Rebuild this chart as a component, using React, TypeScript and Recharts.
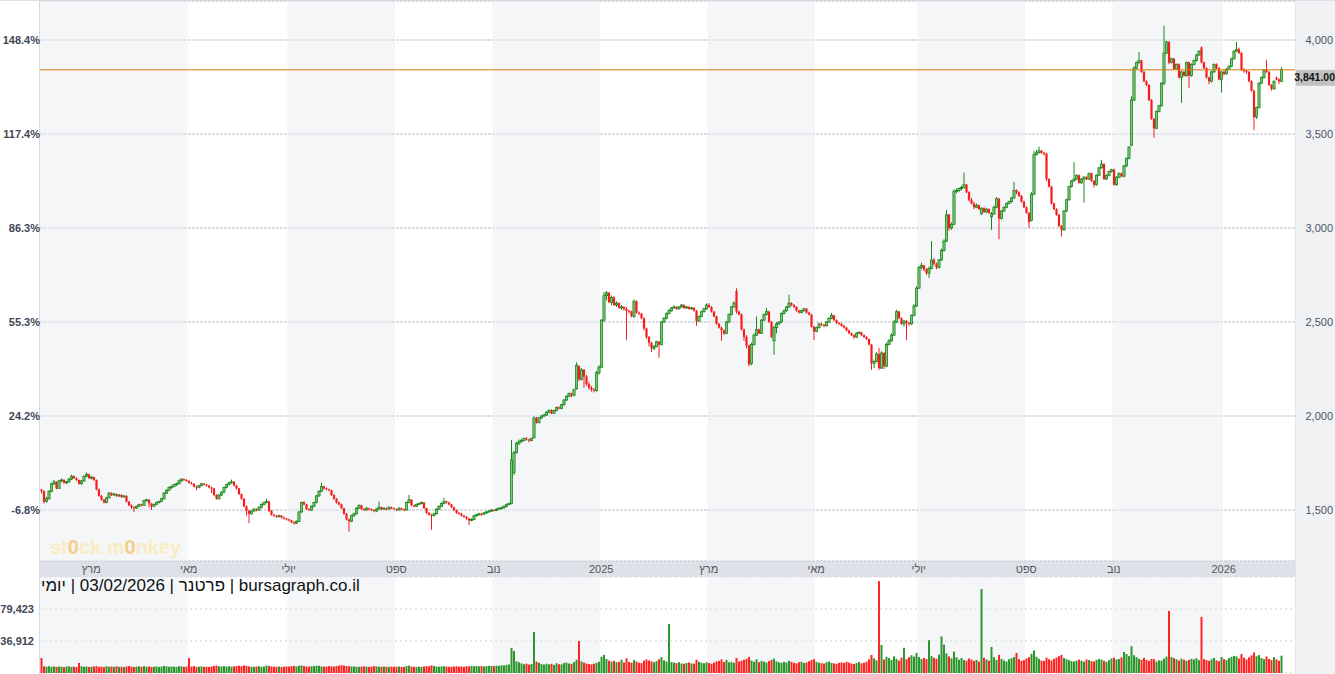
import React from "react";
import {
  Bar,
  CartesianGrid,
  ComposedChart,
  ReferenceArea,
  ReferenceLine,
  XAxis,
  YAxis,
} from "recharts";

// trading days per month, Feb 2024 .. Feb 2026
const MONTH_DAYS = [20, 21, 18, 21, 19, 23, 20, 20, 19, 21, 22, 22, 21, 22, 21, 21, 20, 23, 20, 19, 16, 21, 23, 22, 2];
const MONTH_LABELS = ["פבר", "מרץ", "אפר", "מאי", "יוני", "יולי", "אוג", "ספט", "אוק", "נוב", "דצמ", "2025", "פבר", "מרץ", "אפר", "מאי", "יוני", "יולי", "אוג", "ספט", "אוק", "נוב", "דצמ", "2026", "פבר"];

const PRICE_TICKS = [1500, 2000, 2500, 3000, 3500, 4000];
const PCT_LABELS = ["-6.8%", "24.2%", "55.3%", "86.3%", "117.4%", "148.4%"];
const PRICE_DOMAIN = [1229, 4207];
const LAST_PRICE = 3841;
const VOL_TICKS = [36912, 79423];
const VOL_DOMAIN = [-5600, 122000];

// [open, high, low, close]
const C2024 = [
  [1608,1612,1588,1600],[1600,1605,1535,1545],[1545,1570,1540,1560],[1560,1605,1555,1600],[1600,1645,1595,1640],[1640,1660,1632,1650],[1650,1652,1610,1615],[1615,1660,1612,1655],[1655,1668,1648,1660],[1660,1664,1640,1645],
  [1645,1655,1638,1650],[1650,1670,1646,1665],[1665,1688,1660,1680],[1680,1684,1665,1670],[1670,1674,1655,1660],[1660,1662,1635,1640],[1640,1660,1636,1655],[1655,1684,1650,1680],[1680,1700,1675,1690],[1690,1694,1664,1670],
  [1670,1682,1662,1675],[1675,1678,1655,1660],[1660,1662,1605,1610],[1610,1614,1570,1575],[1575,1580,1550,1555],[1555,1560,1535,1540],[1540,1570,1536,1565],[1565,1596,1560,1590],[1590,1594,1575,1580],[1580,1592,1576,1585],
  [1585,1588,1570,1575],[1575,1586,1570,1580],[1580,1584,1565,1570],[1570,1580,1566,1575],[1575,1578,1540,1545],[1545,1548,1520,1525],[1525,1530,1505,1515],[1515,1520,1490,1510],[1510,1524,1506,1520],[1520,1534,1515,1530],
  [1530,1533,1520,1525],
  [1525,1555,1522,1550],[1550,1560,1545,1555],[1555,1557,1515,1535],[1535,1538,1500,1520],[1520,1534,1516,1530],[1530,1544,1526,1540],[1540,1550,1535,1545],[1545,1565,1542,1560],[1560,1595,1556,1590],[1590,1610,1585,1605],
  [1605,1625,1600,1620],[1620,1630,1612,1625],[1625,1640,1620,1635],[1635,1645,1628,1640],[1640,1662,1636,1655],[1655,1668,1650,1665],[1665,1668,1655,1660],[1660,1664,1650,1655],
  [1655,1658,1640,1645],[1645,1650,1636,1640],[1640,1642,1620,1625],[1625,1630,1605,1620],[1620,1634,1615,1630],[1630,1645,1626,1640],[1640,1643,1630,1635],[1635,1638,1625,1630],[1630,1634,1615,1620],[1620,1624,1590,1615],
  [1615,1618,1575,1580],[1580,1584,1555,1560],[1560,1585,1556,1580],[1580,1600,1575,1595],[1595,1625,1590,1620],[1620,1640,1615,1635],[1635,1650,1630,1645],[1645,1662,1640,1650],[1650,1654,1625,1630],[1630,1634,1610,1615],
  [1615,1618,1580,1585],
  [1585,1588,1555,1560],[1560,1564,1515,1520],[1520,1524,1470,1495],[1495,1500,1430,1480],[1480,1500,1475,1495],[1495,1510,1490,1505],[1505,1508,1494,1500],[1500,1520,1496,1515],[1515,1535,1510,1530],[1530,1545,1525,1540],
  [1540,1560,1536,1545],[1545,1550,1490,1495],[1495,1500,1470,1475],[1475,1480,1462,1470],[1470,1474,1458,1465],[1465,1476,1460,1470],[1470,1472,1455,1460],[1460,1466,1450,1455],[1455,1458,1444,1450],
  [1450,1454,1440,1445],[1445,1448,1430,1435],[1435,1440,1422,1430],[1430,1445,1426,1440],[1440,1495,1436,1490],[1490,1545,1486,1540],[1540,1548,1525,1530],[1530,1534,1500,1505],[1505,1510,1495,1500],[1500,1525,1496,1520],
  [1520,1545,1515,1540],[1540,1580,1536,1575],[1575,1605,1570,1600],[1600,1645,1596,1625],[1625,1630,1608,1615],[1615,1620,1605,1610],[1610,1614,1600,1605],[1605,1608,1575,1580],[1580,1584,1555,1560],[1560,1564,1535,1540],
  [1540,1545,1525,1530],[1530,1534,1505,1510],[1510,1512,1475,1480],
  [1480,1484,1445,1450],[1450,1455,1385,1440],[1440,1475,1436,1470],[1470,1486,1465,1480],[1480,1515,1476,1510],[1510,1530,1505,1525],[1525,1528,1500,1505],[1505,1510,1494,1500],[1500,1515,1496,1510],[1510,1512,1498,1505],
  [1505,1508,1494,1500],[1500,1503,1488,1495],[1495,1510,1490,1505],[1505,1545,1500,1515],[1515,1518,1500,1505],[1505,1514,1500,1510],[1510,1513,1498,1505],[1505,1520,1500,1515],[1515,1518,1505,1510],[1510,1514,1500,1505],
  [1505,1508,1495,1500],[1500,1515,1496,1510],[1510,1512,1500,1505],[1505,1508,1494,1500],[1500,1545,1498,1540],[1540,1580,1536,1555],[1555,1558,1520,1525],[1525,1528,1515,1520],[1520,1534,1516,1530],[1530,1540,1526,1535],
  [1535,1545,1530,1540],[1540,1542,1505,1510],[1510,1512,1480,1485],[1485,1490,1470,1475],[1475,1480,1395,1470],[1470,1485,1466,1480],[1480,1510,1476,1505],[1505,1525,1500,1520],[1520,1540,1516,1535],[1535,1565,1530,1545],
  [1545,1550,1535,1540],[1540,1544,1525,1530],[1530,1533,1510,1515],[1515,1518,1495,1500],[1500,1503,1480,1485],[1485,1490,1475,1480],[1480,1484,1465,1470],[1470,1474,1458,1465],[1465,1468,1448,1455],[1455,1458,1420,1445],
  [1445,1456,1440,1450],[1450,1475,1446,1470],[1470,1480,1465,1475],[1475,1486,1470,1480],[1480,1484,1470,1478],[1478,1490,1474,1485],[1485,1495,1480,1490],[1490,1500,1485,1495],[1495,1506,1490,1500],
  [1500,1504,1492,1498],[1498,1510,1494,1505],[1505,1515,1500,1510],[1510,1518,1505,1512],[1512,1525,1508,1520],[1520,1534,1515,1530],[1530,1540,1525,1535],[1535,1872,1530,1766],[1700,1815,1686,1805],[1805,1862,1800,1855],
  [1855,1875,1845,1865],[1865,1878,1858,1870],[1870,1885,1865,1880],[1880,1888,1870,1875],[1875,1880,1860,1870],[1870,1885,1866,1880],[1885,1998,1880,1990],[1990,1995,1960,1965],[1965,1995,1960,1990],[1990,2005,1985,2000],
  [2000,2012,1995,2005],
  [2005,2025,2000,2020],[2020,2035,2015,2030],[2030,2036,2010,2015],[2015,2034,2010,2030],[2030,2050,2025,2045],[2045,2052,2035,2040],[2040,2065,2036,2060],[2060,2090,2055,2085],[2085,2110,2080,2105],[2105,2125,2100,2120],
  [2120,2124,2100,2110],[2110,2145,2105,2140],[2145,2285,2140,2270],[2265,2270,2185,2195],[2195,2255,2190,2245],[2245,2250,2150,2210],[2210,2218,2160,2170],[2170,2180,2140,2150],[2150,2160,2130,2140],[2140,2148,2125,2135],
  [2135,2240,2130,2230],[2230,2270,2220,2260],
];

const C2025 = [
  [2260,2515,2255,2510],[2510,2660,2500,2640],[2640,2665,2615,2655],[2655,2660,2600,2605],[2605,2640,2590,2630],[2630,2638,2585,2590],[2590,2610,2580,2600],[2600,2604,2570,2575],[2575,2590,2565,2580],[2580,2584,2560,2570],
  [2570,2580,2405,2560],[2560,2565,2545,2555],[2555,2560,2525,2530],[2530,2620,2520,2610],[2610,2615,2545,2550],[2550,2556,2535,2545],[2545,2548,2515,2520],[2520,2524,2455,2465],[2465,2470,2410,2420],[2420,2425,2370,2390],
  [2390,2395,2340,2360],[2360,2378,2350,2370],
  [2370,2400,2365,2395],[2395,2398,2310,2380],[2380,2505,2375,2500],[2500,2525,2495,2520],[2520,2550,2515,2545],[2545,2570,2540,2560],[2560,2580,2555,2575],[2575,2590,2570,2580],[2580,2584,2565,2570],[2570,2585,2566,2580],
  [2580,2596,2576,2590],[2590,2594,2570,2575],[2575,2585,2570,2580],[2580,2584,2565,2570],[2570,2580,2566,2575],[2575,2578,2555,2560],[2560,2564,2480,2505],[2505,2535,2500,2530],[2530,2560,2525,2555],[2555,2575,2550,2570],
  [2570,2600,2565,2590],
  [2590,2600,2575,2580],[2580,2584,2550,2555],[2555,2558,2525,2530],[2530,2534,2485,2490],[2490,2495,2465,2470],[2470,2475,2400,2455],[2455,2460,2430,2440],[2440,2505,2435,2500],[2500,2545,2495,2540],[2540,2585,2535,2580],
  [2580,2610,2575,2600],[2665,2680,2545,2555],[2555,2560,2535,2540],[2540,2545,2455,2460],[2460,2465,2400,2420],[2420,2430,2360,2375],[2375,2380,2265,2275],[2280,2390,2270,2380],[2380,2440,2375,2430],[2430,2530,2425,2460],
  [2460,2465,2435,2440],[2440,2515,2436,2510],
  [2510,2545,2505,2540],[2540,2575,2535,2555],[2555,2560,2495,2500],[2500,2505,2415,2420],[2400,2480,2325,2470],[2470,2500,2440,2490],[2490,2505,2485,2500],[2500,2550,2495,2545],[2545,2565,2540,2560],[2560,2585,2555,2580],
  [2580,2645,2575,2600],[2600,2605,2585,2590],[2590,2595,2575,2580],[2580,2584,2555,2560],[2560,2565,2545,2550],[2550,2565,2546,2560],[2560,2575,2555,2570],[2570,2574,2545,2550],[2550,2555,2535,2540],[2540,2544,2470,2475],
  [2475,2480,2404,2450],
  [2450,2475,2445,2470],[2470,2495,2465,2490],[2490,2494,2478,2485],[2485,2490,2472,2480],[2480,2505,2476,2500],[2500,2525,2495,2520],[2520,2548,2515,2535],[2535,2538,2505,2510],[2510,2514,2490,2495],[2495,2500,2485,2490],
  [2490,2494,2475,2480],[2480,2485,2465,2470],[2470,2474,2450,2455],[2455,2460,2435,2440],[2440,2444,2425,2430],[2430,2434,2410,2420],[2420,2445,2415,2440],[2440,2450,2435,2445],[2445,2448,2425,2430],[2430,2434,2415,2420],
  [2420,2425,2405,2410],
  [2410,2412,2375,2380],[2380,2384,2245,2280],[2280,2300,2255,2290],[2290,2340,2285,2330],[2330,2362,2245,2255],[2255,2345,2250,2335],[2335,2340,2250,2265],[2265,2390,2260,2380],[2380,2410,2375,2400],[2400,2440,2395,2430],
  [2430,2510,2425,2500],[2500,2565,2495,2555],[2555,2560,2515,2520],[2520,2525,2485,2490],[2490,2510,2475,2505],[2505,2510,2404,2495],[2495,2500,2480,2490],[2490,2540,2485,2535],[2535,2595,2530,2585],[2585,2690,2580,2680],
  [2680,2800,2675,2790],[2790,2815,2780,2800],[2800,2805,2770,2780],[2780,2785,2750,2760],[2760,2795,2735,2785],[2785,2930,2780,2830],[2830,2840,2800,2810],[2810,2815,2780,2790],[2790,2835,2785,2830],[2830,2890,2825,2880],
  [2880,2940,2875,2930],[2930,3095,2925,3070],[3070,3075,2985,3000],[3000,3030,2990,3020],[3020,3205,3015,3195],[3195,3210,3185,3200],[3200,3215,3190,3210],[3210,3225,3200,3215],[3215,3295,3210,3230],[3230,3235,3185,3190],
  [3190,3195,3140,3150],[3150,3160,3125,3130],[3130,3140,3100,3110],
  [3110,3130,3105,3120],[3120,3125,3095,3100],[3075,3110,3070,3105],[3105,3110,3080,3085],[3085,3105,3080,3100],[3100,3104,3075,3080],[3060,3085,2990,3075],[3075,3120,3070,3110],[3110,3165,3105,3155],[3155,3160,2940,3050],
  [3050,3095,3045,3090],[3090,3115,3085,3110],[3110,3135,3105,3130],[3130,3145,3125,3140],[3140,3165,3135,3160],[3160,3245,3155,3200],[3200,3205,3180,3190],[3190,3195,3165,3170],[3170,3175,3135,3140],[3140,3145,3105,3110],
  [3110,3115,3075,3080],[3080,3085,3000,3030],[3040,3190,3035,3180],[3180,3410,3175,3390],[3390,3415,3385,3400],[3400,3432,3395,3410],[3410,3415,3395,3400],[3400,3405,3385,3395],[3395,3400,3250,3260],[3260,3265,3215,3220],
  [3220,3225,3125,3130],[3130,3135,3095,3100],[3100,3105,3065,3070],[3070,3075,3005,3010],[3010,3015,2955,2990],[2990,3095,2985,3090],[3090,3155,3085,3150],[3150,3225,3145,3220],[3220,3255,3215,3250],
  [3250,3350,3245,3260],[3260,3285,3255,3280],[3280,3285,3235,3240],[3240,3265,3235,3260],[3260,3275,3135,3270],[3270,3275,3255,3260],[3260,3295,3255,3290],[3290,3295,3245,3250],[3250,3255,3215,3230],[3230,3285,3225,3280],
  [3280,3325,3275,3320],[3320,3362,3315,3340],[3340,3345,3255,3260],[3260,3285,3255,3280],[3280,3305,3275,3300],[3300,3315,3295,3310],
  [3310,3315,3225,3230],[3230,3275,3225,3270],[3270,3295,3265,3290],[3290,3294,3270,3275],[3275,3335,3270,3330],[3330,3375,3325,3370],[3370,3435,3365,3430],[3440,3700,3435,3680],[3680,3860,3675,3850],[3850,3885,3845,3880],
  [3880,3936,3870,3890],[3890,3895,3825,3830],[3830,3835,3775,3780],[3780,3785,3755,3760],[3760,3765,3675,3680],[3680,3685,3575,3580],[3580,3585,3480,3530],[3530,3625,3525,3620],[3620,3655,3615,3650],[3650,3775,3645,3770],
  [3770,4075,3760,3930],
  [3930,3995,3925,3990],[3990,3992,3870,3880],[3880,3905,3875,3900],[3900,3905,3840,3845],[3845,3875,3840,3870],[3870,3875,3795,3800],[3800,3835,3665,3830],[3830,3835,3805,3810],[3810,3885,3805,3880],[3880,3885,3745,3810],
  [3810,3875,3805,3870],[3870,3895,3865,3890],[3890,3925,3885,3920],[3920,3945,3915,3940],[3960,3965,3875,3880],[3880,3885,3845,3850],[3850,3855,3795,3800],[3800,3805,3765,3780],[3780,3835,3775,3830],[3830,3875,3825,3870],
  [3870,3875,3845,3850],[3850,3855,3785,3790],[3790,3835,3720,3830],
];

const C2026 = [
  [3830,3840,3810,3820],[3820,3850,3815,3845],[3845,3865,3840,3860],[3860,3905,3855,3900],[3900,3945,3895,3940],[3940,3990,3935,3950],[3950,3960,3925,3930],[3930,3935,3835,3840],[3840,3850,3825,3835],[3835,3840,3820,3830],
  [3830,3835,3775,3780],[3780,3785,3725,3730],[3730,3735,3520,3590],[3590,3645,3580,3640],[3640,3775,3635,3770],[3770,3805,3765,3800],[3800,3845,3795,3840],[3840,3894,3825,3830],[3830,3835,3755,3760],[3760,3765,3730,3740],
  [3740,3785,3735,3780],[3800,3805,3785,3790],[3790,3795,3765,3780],[3780,3856,3775,3841],
];

const V2024 = [
  14300,3200,2800,3500,2600,3100,2400,3000,2700,2200,2900,3300,2500,2800,2300,7700,3400,2600,3000,2400,
  2800,3100,3600,2500,2900,2200,3400,2700,3000,2500,3300,2600,2800,2300,3100,3600,2700,2400,2900,3200,
  2600,3500,2800,3000,2500,2700,3100,2400,2900,3800,3300,2600,3000,2800,2500,3400,3100,2700,2900,
  14300,3000,3500,2600,2800,3200,2500,2700,2400,3100,3900,4200,3300,2900,3600,3000,3400,2800,3200,3700,
  4100,3500,4400,3900,3100,2800,2600,3000,3300,2700,2900,4300,3600,3100,2800,2600,3000,2500,2700,3200,
  3000,3400,3800,3200,4000,4500,3600,3100,2900,3300,3700,4100,3900,3200,2800,3000,3500,3300,2900,3600,
  4200,4800,4300,3700,3400,3000,3100,2700,2600,2900,3200,2800,2500,2700,3500,3100,2800,2600,3000,2700,
  2500,2800,2600,
  2700,3000,2600,2400,3800,4200,3000,2700,2500,2800,2600,3100,3500,3300,4600,3600,3000,2800,3200,3400,
  2900,2600,2800,3000,3300,2900,3100,2700,3500,3200,3600,3400,3900,3300,3700,3100,3500,4000,3800,
  3600,4200,3900,4600,4400,5200,5800,27600,23600,10000,8500,7200,6000,6800,5500,6300,49000,
  9500,8000,6200,5600,6800,5900,6500,5200,7400,6100,5800,7600,8300,7000,6400,8800,12000,37000,
  9800,8200,7000,6300,5800,6600,7900,9400,
];

const V2025 = [
  16000,18500,13000,11000,9500,10500,8800,9200,12000,8400,14000,9000,8200,11500,9700,8000,7600,10800,12500,11000,
  9800,8700,10200,12800,15500,11200,9600,59500,9000,8200,7500,8800,7000,6600,7800,8400,7200,6800,12000,9400,
  8000,7300,8600,
  7600,6800,8200,9800,10500,12400,9000,11800,8600,9200,8000,14500,9600,10800,12000,13200,15800,11000,9400,12600,
  8800,10400,9600,8200,10200,11800,13500,9800,8600,7900,9100,8400,10600,9300,8000,7200,8800,9400,7700,8300,
  10000,11600,12800,
  9200,8100,7400,6900,8800,9600,8000,7200,6600,7900,8500,7800,9300,8200,7000,6400,7600,8900,7300,8000,
  9400,12600,18500,13800,11200,116500,31600,12400,15800,14200,11800,16500,13200,10800,14800,27800,12800,15400,18000,16200,
  21000,
  15600,13000,14400,12800,38000,16800,14600,13200,18800,43000,32000,20500,16400,13800,22800,15200,12000,14400,11600,10800,
  13600,12200,10400,11800,9600,106000,14600,12200,10800,29000,15400,11800,18600,13200,11000,9800,12600,14000,15600,21000,
  12800,10600,11400,
  13800,15400,19800,24400,16000,13200,11000,10400,14800,12600,11200,13400,15000,16800,18400,14200,12800,11400,10200,9600,
  11000,12200,10800,9400,12400,11600,10200,9800,11800,13000,12400,10600,9200,11400,13600,
  14800,12400,13000,15200,22300,19600,16800,30000,18000,15400,13200,12000,14600,11800,10400,13000,12800,9600,11200,10800,
  13600,16200,77000,15800,14200,12600,11000,13400,12000,10600,11800,13200,12400,14000,11400,69000,12800,11600,10400,12600,
  14400,11200,10000,15600,
];

const V2026 = [
  12800,11600,14200,15800,17200,16400,13600,19600,14800,12400,15200,17800,21600,16800,18200,14400,12800,16400,13200,11800,
  15600,12600,10800,17400,
];

const CANDLES = [...C2024, ...C2025, ...C2026];
const VOLUMES = [...V2024, ...V2025, ...V2026];
const rows = CANDLES.map(([o, h, l, c], i) => ({ i, o, h, l, c, v: VOLUMES[i] ?? 0 }));

const MONTH_START: number[] = [];
MONTH_DAYS.forEach((n, m) => MONTH_START.push(m === 0 ? 0 : MONTH_START[m - 1] + MONTH_DAYS[m - 1]));
const TICK_IDX = MONTH_START.filter((_, m) => m % 2 === 1);
const BANDS = [1, 5, 9, 13, 17, 21].map((k) => [k === 1 ? 0 : MONTH_START[k], MONTH_START[k + 2] - 1]);

const FONT = '"Liberation Sans", Arial, Helvetica, sans-serif';
const UP = "#1a871a";
const UP_FILL = "#7fc57f";
const DOWN = "#f51c1c";
const BAND_FILL = "#e9edf1";
const PAD = { left: 0, right: 12.5 };

function Candle(props: any) {
  const { x, y, width, height, payload } = props;
  if (!payload || !(height > 0)) return null;
  const { o, h, l, c } = payload;
  const k = height / (h - l);
  const top = y + (h - Math.max(o, c)) * k;
  const bot = y + (h - Math.min(o, c)) * k;
  const cx = x + width / 2;
  const up = c >= o;
  const col = up ? UP : DOWN;
  return (
    <g>
      <line x1={cx} x2={cx} y1={y} y2={y + height} stroke={col} strokeWidth={1} />
      <rect
        x={cx - 1.1}
        y={top}
        width={2.2}
        height={Math.max(1, bot - top)}
        fill={up ? UP_FILL : DOWN}
        stroke={col}
        strokeWidth={up ? 0.8 : 0}
      />
    </g>
  );
}

function VolBar(props: any) {
  const { x, y, width, height, payload } = props;
  if (!payload || !(height > 0)) return null;
  const up = payload.c >= payload.o;
  return <rect x={x + width / 2 - 1} y={y} width={2} height={height} fill={up ? "#2b962b" : "#ff2424"} />;
}

function XTick({ x, payload }: any) {
  const m = MONTH_START.indexOf(payload.value);
  return (
    <text x={x} y={573} textAnchor="middle" fontSize={11} fill="#555" fontFamily={FONT}>
      {MONTH_LABELS[m]}
    </text>
  );
}

function PctTick({ y, payload }: any) {
  return (
    <text x={40} y={y + 4} textAnchor="end" fontSize={11} fontWeight={600} fill="#3d4756" fontFamily={FONT}>
      {PCT_LABELS[PRICE_TICKS.indexOf(payload.value)]}
    </text>
  );
}

function PriceTick({ y, payload }: any) {
  if (payload.value === LAST_PRICE) {
    return (
      <g>
        <rect x={1296} y={y} width={39} height={16} fill="#c2c2c2" />
        <text x={1335} y={y + 11} textAnchor="end" fontSize={10.5} fontWeight={700} fill="#111" fontFamily={FONT}>
          {LAST_PRICE.toLocaleString("en-US", { minimumFractionDigits: 2 })}
        </text>
      </g>
    );
  }
  return (
    <text x={1333} y={y + 4} textAnchor="end" fontSize={11} fill="#4a5566" fontFamily={FONT}>
      {payload.value.toLocaleString("en-US")}
    </text>
  );
}

function VolTick({ y, payload }: any) {
  return (
    <text x={34} y={y + 4} textAnchor="end" fontSize={11} fontWeight={600} fill="#3d4756" fontFamily={FONT}>
      {payload.value.toLocaleString("en-US")}
    </text>
  );
}

export default function App() {
  return (
    <div style={{ position: "relative", width: 1335, height: 674, background: "#fff", fontFamily: FONT, overflow: "hidden" }}>
      <style>{"body{margin:0}"}</style>
      <div style={{ position: "absolute", left: 1295, top: 0, width: 40, height: 674, background: "#f1f2f4", borderLeft: "1px solid #e2e5e9" }} />
      <div style={{ position: "absolute", left: 40, top: 561, width: 1255, height: 16, background: "#dee2e8" }} />
      <div style={{ position: "absolute", left: 39, top: 0, width: 1, height: 674, background: "#d6d9de" }} />
      <div style={{ position: "absolute", left: 0, top: 0, width: 1335, height: 1, background: "#dcdfe3" }} />

      <div style={{ position: "absolute", left: 0, top: 0 }}>
        <ComposedChart width={1335} height={577} data={rows} margin={{ top: 1, right: 0, bottom: 0, left: 0 }} barCategoryGap={0}>
          {BANDS.map(([a, b]) => (
            <ReferenceArea key={a} yAxisId="p" x1={a} x2={b} fill={BAND_FILL} fillOpacity={0.5} stroke="none" />
          ))}
          <CartesianGrid yAxisId="pct" vertical={false} stroke="#d0d5db" strokeWidth={1.5} strokeDasharray="3 1" />
          <XAxis
            dataKey="i"
            type="category"
            height={16}
            axisLine={false}
            tickLine={false}
            ticks={TICK_IDX}
            interval={0}
            tick={XTick}
            padding={PAD}
          />
          <YAxis
            yAxisId="pct"
            orientation="left"
            type="number"
            width={40}
            domain={PRICE_DOMAIN}
            allowDataOverflow
            ticks={PRICE_TICKS}
            interval={0}
            axisLine={false}
            tickLine={false}
            tick={PctTick}
          />
          <YAxis
            yAxisId="p"
            orientation="right"
            type="number"
            width={40}
            domain={PRICE_DOMAIN}
            allowDataOverflow
            ticks={[...PRICE_TICKS, LAST_PRICE]}
            interval={0}
            axisLine={false}
            tickLine={false}
            tick={PriceTick}
          />
          <Bar yAxisId="p" dataKey={(d: any) => [d.l, d.h]} shape={Candle} isAnimationActive={false} />
          <ReferenceLine yAxisId="p" y={LAST_PRICE} stroke="#d97b06" strokeWidth={1} />
        </ComposedChart>
      </div>

      <div style={{ position: "absolute", left: 0, top: 577 }}>
        <ComposedChart width={1335} height={97} data={rows} margin={{ top: 0, right: 40, bottom: 1, left: 0 }} barCategoryGap={0}>
          {BANDS.map(([a, b]) => (
            <ReferenceArea key={a} x1={a} x2={b} fill={BAND_FILL} fillOpacity={0.5} stroke="none" />
          ))}
          <CartesianGrid vertical={false} stroke="#c9ced5" strokeDasharray="2 3" />
          <XAxis dataKey="i" type="category" hide padding={PAD} />
          <YAxis
            type="number"
            width={40}
            domain={VOL_DOMAIN}
            allowDataOverflow
            ticks={VOL_TICKS}
            interval={0}
            axisLine={false}
            tickLine={false}
            tick={VolTick}
          />
          <Bar dataKey={(d: any) => [VOL_DOMAIN[0], d.v]} shape={VolBar} isAnimationActive={false} />
        </ComposedChart>
      </div>

      <div style={{ position: "absolute", left: 41, top: 576, fontSize: 17, lineHeight: "20px", color: "#111", direction: "ltr", whiteSpace: "nowrap" }}>
        <bdi>יומי</bdi> | 03/02/2026 | <bdi>פרטנר</bdi> | bursagraph.co.il
      </div>

      <div style={{ position: "absolute", left: 50, top: 537, fontSize: 20, fontWeight: 700, lineHeight: "20px", color: "#fbebc2", whiteSpace: "nowrap" }}>
        st<span style={{ color: "#f4cf86" }}>0</span>ck m<span style={{ color: "#f4cf86" }}>0</span>nkey
      </div>
    </div>
  );
}
